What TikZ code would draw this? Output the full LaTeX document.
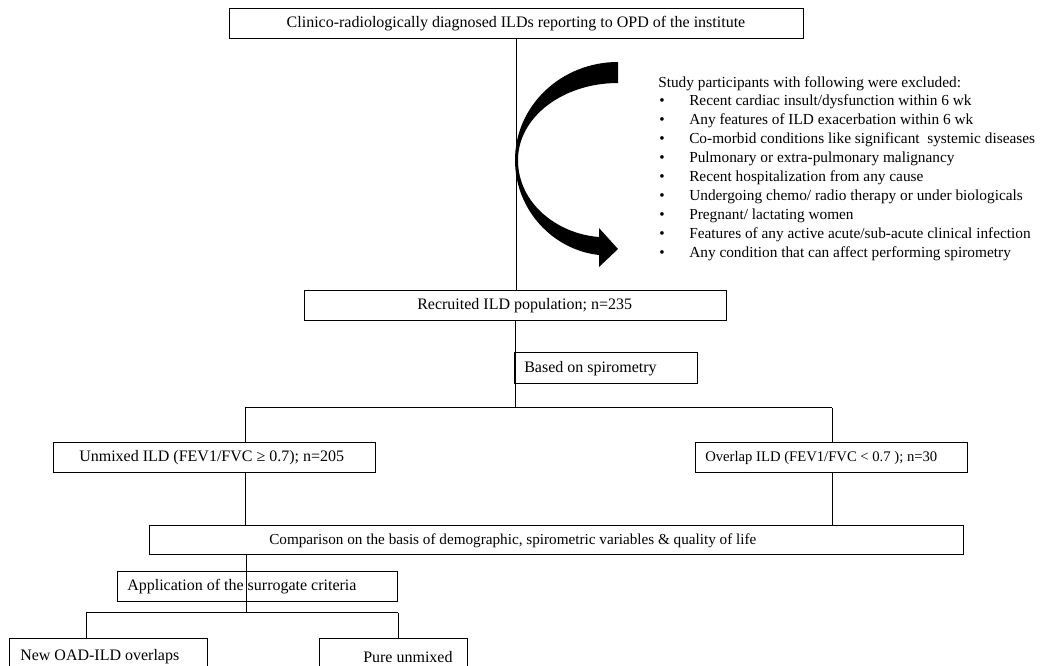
\documentclass[tikz,border=0pt]{standalone}
\usepackage{fontspec}
\setmainfont{Liberation Serif}
\usetikzlibrary{fit}
\tikzset{
  box/.style={draw, line width=0.75pt, inner sep=0pt},
  lbl/.style={anchor=west, inner sep=0pt, font=\fontsize{12}{14}\selectfont},
  conn/.style={line width=0.75pt},
  blockarrow/.style={fill=black, draw=none}
}
\newcommand{\bul}{\makebox[23.25pt][l]{\hspace{0.8pt}\textbullet}}
\begin{document}
\begin{tikzpicture}[x=0.75pt,y=-0.75pt]
\useasboundingbox (0,0) rectangle (1058,666);
\clip (0,0) rectangle (1058,666);

% boxes
\node[box, fit={(229,9)(803,39)}] (top) {};
\node[lbl, anchor=center] (toptext) at (top.center) {Clinico-radiologically diagnosed ILDs reporting to OPD of the institute};

\node[box, fit={(304,291)(726,321)}] (recruited) {};
\node[lbl] (recruitedtext) at (417,306) {Recruited ILD population; n=235};

\node[box, fit={(514,353)(697,384)}] (spiro) {};
\node[lbl] (spirotext) at (524,368.5) {Based on spirometry};

\node[box, fit={(53,443)(375,473)}] (unmixed) {};
\node[lbl] (unmixedtext) at (79,458) {Unmixed ILD (FEV1/FVC ≥ 0.7); n=205};

\node[box, fit={(695,443)(967,473)}] (overlap) {};
\node[lbl, font=\fontsize{11}{13}\selectfont] (overlaptext) at (705,458) {Overlap ILD (FEV1/FVC < 0.7 ); n=30};

\node[box, fit={(149,526)(963,555)}] (comp) {};
\node[lbl, font=\fontsize{11.4}{13.5}\selectfont] (comptext) at (269,540.5) {Comparison on the basis of demographic, spirometric variables \& quality of life};

\node[box, fit={(117,572)(397,602)}] (appl) {};
\node[lbl] (appltext) at (127,587) {Application of the surrogate criteria};

\node[box, fit={(9,639)(207,700)}] (newoad) {};
\node[lbl] (newoadtext) at (20,657) {New OAD-ILD overlaps};

\node[box, fit={(319,639)(467,700)}] (pure) {};
\node[lbl] (puretext) at (363,657) {Pure unmixed};

% exclusion list
\node[anchor=north west, inner sep=0pt, align=left,
      font=\fontsize{11.5}{14.2}\selectfont] (excl) at (658,76)
{Study participants with following were excluded:\\
\bul Recent cardiac insult/dysfunction within 6 wk\\
\bul Any features of ILD exacerbation within 6 wk\\
\bul Co-morbid conditions like significant\ \ systemic diseases\\
\bul Pulmonary or extra-pulmonary malignancy\\
\bul Recent hospitalization from any cause\\
\bul Undergoing chemo/ radio therapy or under biologicals\\
\bul Pregnant/ lactating women\\
\bul Features of any active acute/sub-acute clinical infection\\
\bul Any condition that can affect performing spirometry};

% curved block arrow
\fill[blockarrow] (618,62) .. controls (561,62) and (515,106) .. (515,160)
  .. controls (515,210) and (553,250) .. (599,255)
  -- (599,267) -- (618,249) -- (599,228) -- (599,237)
  .. controls (558,234) and (518,204) .. (518,160)
  .. controls (518,117) and (563,83) .. (618,83) -- cycle;

% connectors
\coordinate (uL) at (245,408);
\coordinate (oR) at (832,408);
\coordinate (mid) at (515,408);
\draw[conn] (top.south) -- (top.south |- recruited.north);
\draw[conn] (recruited.south) -- (recruited.south |- mid);
\draw[conn] (uL) -- (oR);
\draw[conn] (uL) -- (uL |- unmixed.north);
\draw[conn] (oR) -- (oR |- overlap.north);
\draw[conn] (uL |- unmixed.south) -- (uL |- comp.north);
\draw[conn] (oR |- overlap.south) -- (oR |- comp.north);

\coordinate (b1) at (246,613);
\coordinate (bl) at (86,613);
\coordinate (br) at (398,613);
\draw[conn] (b1 |- comp.south) -- (b1);
\draw[conn] (bl) -- (br);
\draw[conn] (bl) -- (bl |- newoad.north);
\draw[conn] (br) -- (br |- pure.north);
\end{tikzpicture}
\end{document}
